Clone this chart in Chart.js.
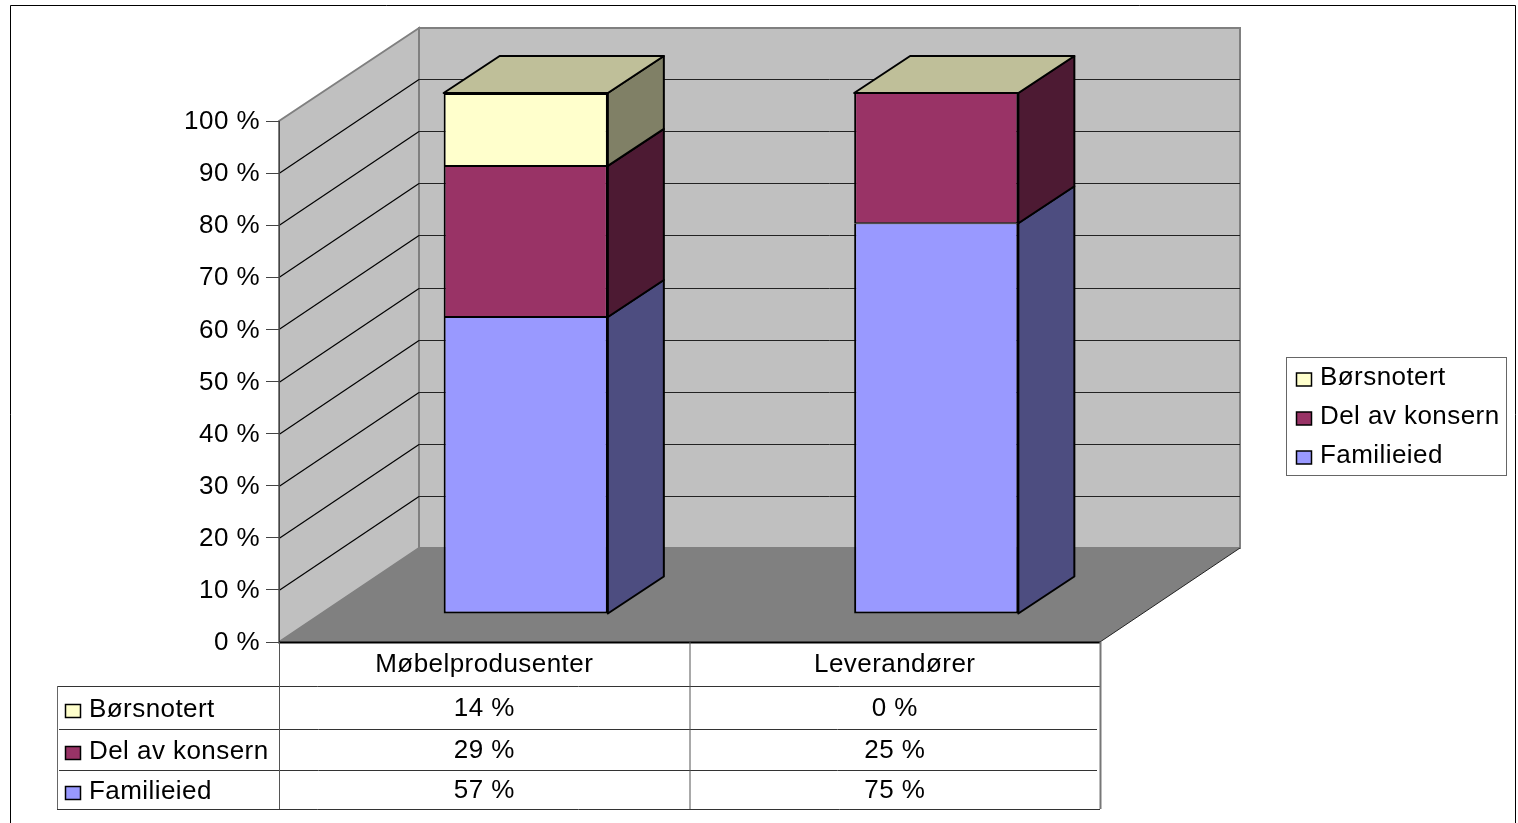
<!DOCTYPE html>
<html>
<head>
<meta charset="utf-8">
<title>Eierskap</title>
<script src="https://cdn.jsdelivr.net/npm/chart.js@4"></script>
<style>
  html, body { margin: 0; padding: 0; background: #fff; overflow: hidden; }
  canvas { display: block; }
</style>
</head>
<body>
<canvas id="ownerChart" width="1518" height="823"></canvas>
<script>
const categories = ["Møbelprodusenter", "Leverandører"];
const familieied = [57, 75];
const delAvKonsern = [29, 25];
const borsnotert = [14, 0];

const FONT = "26px 'Liberation Sans', Arial, sans-serif";

// 3D look: depth of the whole box and of a bar, in pixels
const WALL_DX = 140, WALL_DY = -94;
const BAR_SHIFT_X = 41.5, BAR_SHIFT_Y = -28;
const BAR_DX = 56, BAR_DY = -37;

const front = ["#9999FF", "#993366", "#FFFFCC"];
const side = ["#4D4D80", "#4D1A33", "#808066"];
const topFace = ["#4D4D80", "#4D1A33", "#BFBF99"];

// legend and table rows go top to bottom, so reverse stacking order
const rows = [
  { label: "Børsnotert", values: borsnotert, color: front[2] },
  { label: "Del av konsern", values: delAvKonsern, color: front[1] },
  { label: "Familieied", values: familieied, color: front[0] }
];

function poly(ctx, pts, fill, stroke, lw) {
  ctx.beginPath();
  pts.forEach((p, i) => (i ? ctx.lineTo(p[0], p[1]) : ctx.moveTo(p[0], p[1])));
  ctx.closePath();
  if (fill) {
    ctx.fillStyle = fill;
    ctx.fill();
  }
  if (stroke) {
    ctx.strokeStyle = stroke;
    ctx.lineWidth = lw || 1;
    ctx.stroke();
  }
}

function line(ctx, x1, y1, x2, y2, color, lw) {
  ctx.beginPath();
  ctx.moveTo(x1, y1);
  ctx.lineTo(x2, y2);
  ctx.strokeStyle = color;
  ctx.lineWidth = lw || 1;
  ctx.stroke();
}

const box3d = {
  id: "box3d",
  beforeDraw(chart) {
    const { ctx, chartArea: a, scales } = chart;
    const dx = WALL_DX, dy = WALL_DY;
    // reference text runs a little wider than Liberation Sans
    ctx.letterSpacing = "0.44px";
    ctx.save();
    // outer frame, no bottom edge in the reference
    ctx.beginPath();
    ctx.moveTo(10.5, 823);
    ctx.lineTo(10.5, 5.5);
    ctx.lineTo(1515.5, 5.5);
    ctx.lineTo(1515.5, 823);
    ctx.strokeStyle = "#000";
    ctx.lineWidth = 1;
    ctx.stroke();

    // back wall, side wall, floor
    const wallTop = a.top + dy + 1;
    poly(ctx, [[a.left + dx, wallTop], [a.right + dx, wallTop], [a.right + dx, a.bottom + dy], [a.left + dx, a.bottom + dy]], "#C0C0C0", "#808080", 2);
    poly(ctx, [[a.left, a.top], [a.left + dx, wallTop], [a.left + dx, a.bottom + dy], [a.left, a.bottom]], "#C0C0C0", "#808080", 2);
    poly(ctx, [[a.left, a.bottom], [a.left + dx, a.bottom + dy], [a.right + dx, a.bottom + dy], [a.right, a.bottom]], "#808080");
    line(ctx, a.right, a.bottom, a.right + dx, a.bottom + dy, "#222", 1);

    scales.y.ticks.forEach((t) => {
      if (t.value === 0 || t.value === 100) return;
      const y = Math.round(scales.y.getPixelForValue(t.value)) + 0.5;
      line(ctx, a.left, y, a.left + dx, y + dy, "#000", 1.2);
      line(ctx, a.left + dx, y + dy, a.right + dx, y + dy, "#222", 1);
    });
    ctx.restore();
  },
  beforeDatasetsDraw(chart) {
    chart.ctx.save();
    chart.ctx.translate(BAR_SHIFT_X, BAR_SHIFT_Y);
  },
  afterDatasetsDraw(chart) {
    const ctx = chart.ctx;
    const n = chart.data.datasets.length;
    chart.data.datasets.forEach((ds, i) => {
      chart.getDatasetMeta(i).data.forEach((bar) => {
        const p = bar.getProps(["x", "y", "base", "width"], true);
        const r = p.x + p.width / 2, l = p.x - p.width / 2;
        ctx.lineJoin = "round";
        if (p.base - p.y > 0) {
          poly(ctx, [[r, p.y], [r + BAR_DX, p.y + BAR_DY], [r + BAR_DX, p.base + BAR_DY], [r, p.base]], side[i], "#000", 2);
        }
        if (i === n - 1) {
          poly(ctx, [[l, p.y], [l + BAR_DX, p.y + BAR_DY], [r + BAR_DX, p.y + BAR_DY], [r, p.y]], topFace[i], "#000", 2);
        }
      });
    });
    ctx.restore();
  },
  afterDraw(chart) {
    const { ctx, chartArea: a, scales } = chart;
    const rowTops = [686, 729, 770, 809];
    const tableLeft = 57;
    const mid = scales.x.getPixelForValue(0) * 2 - a.left;
    ctx.save();
    ctx.font = FONT;
    ctx.textBaseline = "middle";

    line(ctx, a.left, a.bottom + 0.5, a.right, a.bottom + 0.5, "#000", 2);
    rowTops.forEach((y, i) => {
      const inner = i === 1 || i === 2;
      line(ctx, inner ? tableLeft + 2 : tableLeft, y + 0.5, inner ? a.right - 3 : a.right, y + 0.5, "#333", 1);
    });
    line(ctx, tableLeft + 0.5, 686, tableLeft + 0.5, 809, "#666", 1);
    line(ctx, a.left + 0.5, a.bottom, a.left + 0.5, 809, "#555", 1);
    line(ctx, mid + 0.5, a.bottom, mid + 0.5, 809, "#555", 1);
    line(ctx, a.right + 0.5, a.bottom, a.right + 0.5, 809, "#777", 2);

    rows.forEach((row, r) => {
      const cy = (rowTops[r] + rowTops[r + 1]) / 2;
      poly(ctx, [[65.5, cy - 3], [80.5, cy - 3], [80.5, cy + 10], [65.5, cy + 10]], row.color, "#000", 1.5);
      ctx.fillStyle = "#000";
      ctx.textAlign = "left";
      ctx.fillText(row.label, 89, cy + 2.5);
      ctx.textAlign = "center";
      row.values.forEach((v, c) => {
        ctx.fillText(v + " %", scales.x.getPixelForValue(c), cy + 1.5);
      });
    });

    // legend box
    ctx.strokeStyle = "#666";
    ctx.lineWidth = 1;
    ctx.strokeRect(1286.5, 357.5, 220, 118);
    const legendY = [377, 416, 455];
    rows.forEach((row, r) => {
      const cy = legendY[r];
      poly(ctx, [[1296.5, cy - 4], [1311.5, cy - 4], [1311.5, cy + 9], [1296.5, cy + 9]], row.color, "#000", 1.5);
      ctx.fillStyle = "#000";
      ctx.textAlign = "left";
      ctx.fillText(row.label, 1320, cy + 1);
    });
    ctx.restore();
  }
};

// stacked segments share an edge, so inner edges get half the border
const side2 = { left: 2, right: 2 };

new Chart(document.getElementById("ownerChart").getContext("2d"), {
  type: "bar",
  data: {
    labels: categories,
    datasets: [
      { label: "Familieied", data: familieied, backgroundColor: front[0], borderWidth: { ...side2, top: 1, bottom: 2 } },
      { label: "Del av konsern", data: delAvKonsern, backgroundColor: front[1], borderWidth: { ...side2, top: 1, bottom: 1 } },
      { label: "Børsnotert", data: borsnotert, backgroundColor: front[2], borderWidth: { ...side2, top: 2, bottom: 1 } }
    ].map((d) => ({
      ...d,
      borderColor: "#000",
      borderSkipped: false,
      barPercentage: 0.4,
      categoryPercentage: 1,
      clip: false
    }))
  },
  plugins: [box3d],
  options: {
    responsive: false,
    animation: false,
    devicePixelRatio: 1,
    layout: { padding: { left: 0, top: 121, right: 418, bottom: 0 } },
    plugins: {
      legend: { display: false },
      tooltip: { enabled: false }
    },
    scales: {
      x: {
        stacked: true,
        afterFit: (s) => { s.height = 181; },
        grid: { display: false, drawTicks: false },
        border: { display: false },
        ticks: {
          color: "#000",
          padding: 7,
          maxRotation: 0,
          font: { family: "'Liberation Sans', Arial, sans-serif", size: 26 }
        }
      },
      y: {
        stacked: true,
        min: 0,
        max: 100,
        afterFit: (s) => { s.width = 279; },
        grid: { drawOnChartArea: false, drawTicks: true, tickLength: 13, tickColor: "#444", tickWidth: 1 },
        border: { display: true, color: "#444", width: 1 },
        ticks: {
          stepSize: 10,
          color: "#000",
          padding: 6,
          labelOffset: 1,
          callback: (v) => v + " %",
          font: { family: "'Liberation Sans', Arial, sans-serif", size: 26 }
        }
      }
    }
  }
});
</script>
</body>
</html>
